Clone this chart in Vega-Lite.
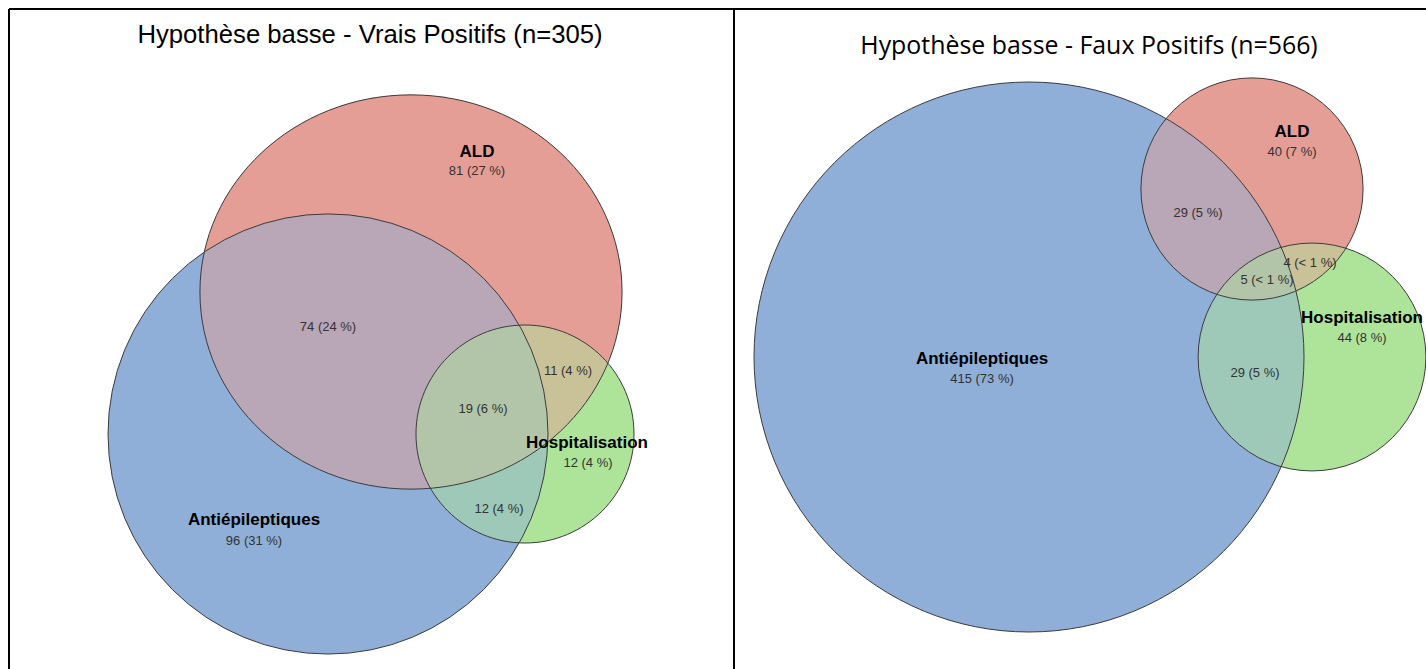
{
  "$schema": "https://vega.github.io/schema/vega-lite/v6.json",
  "width": 1426,
  "height": 669,
  "padding": 0,
  "autosize": {"type": "none"},
  "background": "white",
  "config": {"view": {"stroke": null}},
  "datasets": {
    "circles": [
      {"panel": 1, "set": "Antiépileptiques", "count": 201, "cx": 328, "cy": 434},
      {"panel": 1, "set": "ALD", "count": 185, "cx": 411, "cy": 292},
      {"panel": 1, "set": "Hospitalisation", "count": 54, "cx": 525, "cy": 434},
      {"panel": 2, "set": "Antiépileptiques", "count": 478, "cx": 1029, "cy": 357},
      {"panel": 2, "set": "ALD", "count": 78, "cx": 1252, "cy": 189},
      {"panel": 2, "set": "Hospitalisation", "count": 82, "cx": 1312, "cy": 357}
    ],
    "labels": [
      {"kind": "name", "text": "ALD", "x": 477, "y": 152},
      {"kind": "value", "text": "81 (27 %)", "x": 477, "y": 171},
      {"kind": "value", "text": "74 (24 %)", "x": 328, "y": 327},
      {"kind": "value", "text": "11 (4 %)", "x": 568, "y": 371},
      {"kind": "value", "text": "19 (6 %)", "x": 483, "y": 409},
      {"kind": "name", "text": "Hospitalisation", "x": 587, "y": 443},
      {"kind": "value", "text": "12 (4 %)", "x": 588, "y": 463},
      {"kind": "value", "text": "12 (4 %)", "x": 499, "y": 509},
      {"kind": "name", "text": "Antiépileptiques", "x": 254, "y": 520},
      {"kind": "value", "text": "96 (31 %)", "x": 254, "y": 541},
      {"kind": "name", "text": "ALD", "x": 1292, "y": 132},
      {"kind": "value", "text": "40 (7 %)", "x": 1292, "y": 152},
      {"kind": "value", "text": "29 (5 %)", "x": 1198, "y": 213},
      {"kind": "value", "text": "4 (< 1 %)", "x": 1310, "y": 263},
      {"kind": "value", "text": "5 (< 1 %)", "x": 1267, "y": 280},
      {"kind": "name", "text": "Hospitalisation", "x": 1362, "y": 318},
      {"kind": "value", "text": "44 (8 %)", "x": 1362, "y": 338},
      {"kind": "value", "text": "29 (5 %)", "x": 1255, "y": 373},
      {"kind": "name", "text": "Antiépileptiques", "x": 982, "y": 359},
      {"kind": "value", "text": "415 (73 %)", "x": 982, "y": 379}
    ],
    "titles": [
      {"panel": 1, "text": "Hypothèse basse - Vrais Positifs (n=305)", "x": 370, "y": 35},
      {"panel": 2, "text": "Hypothèse basse - Faux Positifs (n=566)", "x": 1089, "y": 47}
    ],
    "frame": [
      {"x": 9, "y": 9, "x2": 1426, "y2": 9},
      {"x": 9, "y": 9, "x2": 9, "y2": 669},
      {"x": 734, "y": 9, "x2": 734, "y2": 669}
    ]
  },
  "layer": [
    {
      "data": {"name": "circles"},
      "transform": [{"filter": "datum.panel == 1"}],
      "encoding": {
        "x": {"field": "cx", "type": "quantitative", "scale": {"domain": [0, 1426], "nice": false, "zero": false}, "axis": null},
        "y": {"field": "cy", "type": "quantitative", "scale": {"domain": [0, 669], "nice": false, "zero": false, "reverse": true}, "axis": null},
        "size": {"field": "count", "type": "quantitative", "scale": {"domain": [0, 201], "range": [0, 193600]}, "legend": null},
        "fill": {"field": "set", "type": "nominal", "scale": {"domain": ["Antiépileptiques", "ALD", "Hospitalisation"], "range": ["#8FAED8", "#E49E96", "#AEE49A"]}, "legend": null}
      },
      "layer": [
        {"transform": [{"filter": "datum.set == 'Hospitalisation'"}], "mark": {"type": "point", "shape": "M0.956,0C0.956,0.528,0.528,0.956,0,0.956C-0.528,0.956,-0.956,0.528,-0.956,0C-0.956,-0.528,-0.528,-0.956,0,-0.956C0.528,-0.956,0.956,-0.528,0.956,0Z", "filled": true, "opacity": 1, "strokeWidth": 0}},
        {"transform": [{"filter": "datum.set == 'ALD'"}], "mark": {"type": "point", "shape": "M1,0C1,0.5159,0.5523,0.934,0,0.934C-0.5523,0.934,-1,0.5159,-1,0C-1,-0.5159,-0.5523,-0.934,0,-0.934C0.5523,-0.934,1,-0.5159,1,0Z", "filled": true, "opacity": 1, "strokeWidth": 0}},
        {"transform": [{"filter": "datum.set == 'Antiépileptiques'"}], "mark": {"type": "point", "shape": "circle", "filled": true, "opacity": 1, "strokeWidth": 0}},
        {"transform": [{"filter": "datum.set == 'ALD'"}], "mark": {"type": "point", "shape": "M1,0C1,0.5159,0.5523,0.934,0,0.934C-0.5523,0.934,-1,0.5159,-1,0C-1,-0.5159,-0.5523,-0.934,0,-0.934C0.5523,-0.934,1,-0.5159,1,0Z", "filled": true, "opacity": 0.5, "strokeWidth": 0}},
        {"transform": [{"filter": "datum.set == 'Hospitalisation'"}], "mark": {"type": "point", "shape": "M0.956,0C0.956,0.528,0.528,0.956,0,0.956C-0.528,0.956,-0.956,0.528,-0.956,0C-0.956,-0.528,-0.528,-0.956,0,-0.956C0.528,-0.956,0.956,-0.528,0.956,0Z", "filled": true, "opacity": 0.5, "strokeWidth": 0}},
        {"transform": [{"filter": "datum.set == 'Antiépileptiques'"}], "mark": {"type": "point", "shape": "circle", "filled": true, "opacity": 1, "fillOpacity": 0, "stroke": "#3c3c3c", "strokeWidth": 1}},
        {"transform": [{"filter": "datum.set == 'ALD'"}], "mark": {"type": "point", "shape": "M1,0C1,0.5159,0.5523,0.934,0,0.934C-0.5523,0.934,-1,0.5159,-1,0C-1,-0.5159,-0.5523,-0.934,0,-0.934C0.5523,-0.934,1,-0.5159,1,0Z", "filled": true, "opacity": 1, "fillOpacity": 0, "stroke": "#3c3c3c", "strokeWidth": 1}},
        {"transform": [{"filter": "datum.set == 'Hospitalisation'"}], "mark": {"type": "point", "shape": "M0.956,0C0.956,0.528,0.528,0.956,0,0.956C-0.528,0.956,-0.956,0.528,-0.956,0C-0.956,-0.528,-0.528,-0.956,0,-0.956C0.528,-0.956,0.956,-0.528,0.956,0Z", "filled": true, "opacity": 1, "fillOpacity": 0, "stroke": "#3c3c3c", "strokeWidth": 1}}
      ]
    },
    {
      "data": {"name": "circles"},
      "transform": [{"filter": "datum.panel == 2"}],
      "encoding": {
        "x": {"field": "cx", "type": "quantitative", "scale": {"domain": [0, 1426], "nice": false, "zero": false}, "axis": null},
        "y": {"field": "cy", "type": "quantitative", "scale": {"domain": [0, 669], "nice": false, "zero": false, "reverse": true}, "axis": null},
        "size": {"field": "count", "type": "quantitative", "scale": {"domain": [0, 478], "range": [0, 302500]}, "legend": null},
        "fill": {"field": "set", "type": "nominal", "scale": {"domain": ["Antiépileptiques", "ALD", "Hospitalisation"], "range": ["#8FAED8", "#E49E96", "#AEE49A"]}, "legend": null}
      },
      "layer": [
        {"transform": [{"filter": "datum.set == 'Hospitalisation'"}], "mark": {"type": "point", "shape": "circle", "filled": true, "opacity": 1, "strokeWidth": 0}},
        {"transform": [{"filter": "datum.set == 'ALD'"}], "mark": {"type": "point", "shape": "circle", "filled": true, "opacity": 1, "strokeWidth": 0}},
        {"transform": [{"filter": "datum.set == 'Antiépileptiques'"}], "mark": {"type": "point", "shape": "circle", "filled": true, "opacity": 1, "strokeWidth": 0}},
        {"transform": [{"filter": "datum.set == 'ALD'"}], "mark": {"type": "point", "shape": "circle", "filled": true, "opacity": 0.5, "strokeWidth": 0}},
        {"transform": [{"filter": "datum.set == 'Hospitalisation'"}], "mark": {"type": "point", "shape": "circle", "filled": true, "opacity": 0.5, "strokeWidth": 0}},
        {"mark": {"type": "point", "shape": "circle", "filled": true, "opacity": 1, "fillOpacity": 0, "stroke": "#3c3c3c", "strokeWidth": 1}}
      ]
    },
    {
      "data": {"name": "frame"},
      "mark": {"type": "rule", "color": "#000000", "strokeWidth": 2},
      "encoding": {
        "x": {"field": "x", "type": "quantitative", "scale": {"domain": [0, 1426], "nice": false, "zero": false}, "axis": null},
        "y": {"field": "y", "type": "quantitative", "scale": {"domain": [0, 669], "nice": false, "zero": false, "reverse": true}, "axis": null},
        "x2": {"field": "x2"},
        "y2": {"field": "y2"}
      }
    },
    {
      "data": {"name": "titles"},
      "transform": [{"filter": "datum.panel == 1"}],
      "mark": {"type": "text", "font": "Liberation Sans", "fontSize": 25.7, "color": "#000000", "align": "center", "baseline": "middle"},
      "encoding": {
        "x": {"field": "x", "type": "quantitative", "scale": {"domain": [0, 1426], "nice": false, "zero": false}, "axis": null},
        "y": {"field": "y", "type": "quantitative", "scale": {"domain": [0, 669], "nice": false, "zero": false, "reverse": true}, "axis": null},
        "text": {"field": "text", "type": "nominal"}
      }
    },
    {
      "data": {"name": "titles"},
      "transform": [{"filter": "datum.panel == 2"}],
      "mark": {"type": "text", "font": "Open Sans", "fontSize": 24.9, "color": "#000000", "align": "center", "baseline": "middle"},
      "encoding": {
        "x": {"field": "x", "type": "quantitative", "scale": {"domain": [0, 1426], "nice": false, "zero": false}, "axis": null},
        "y": {"field": "y", "type": "quantitative", "scale": {"domain": [0, 669], "nice": false, "zero": false, "reverse": true}, "axis": null},
        "text": {"field": "text", "type": "nominal"}
      }
    },
    {
      "data": {"name": "labels"},
      "transform": [{"filter": "datum.kind == 'name'"}],
      "mark": {"type": "text", "font": "Liberation Sans", "fontSize": 17, "fontWeight": "bold", "color": "#000000", "align": "center", "baseline": "middle"},
      "encoding": {
        "x": {"field": "x", "type": "quantitative", "scale": {"domain": [0, 1426], "nice": false, "zero": false}, "axis": null},
        "y": {"field": "y", "type": "quantitative", "scale": {"domain": [0, 669], "nice": false, "zero": false, "reverse": true}, "axis": null},
        "text": {"field": "text", "type": "nominal"}
      }
    },
    {
      "data": {"name": "labels"},
      "transform": [{"filter": "datum.kind == 'value'"}],
      "mark": {"type": "text", "font": "Liberation Sans", "fontSize": 13, "color": "#333333", "align": "center", "baseline": "middle"},
      "encoding": {
        "x": {"field": "x", "type": "quantitative", "scale": {"domain": [0, 1426], "nice": false, "zero": false}, "axis": null},
        "y": {"field": "y", "type": "quantitative", "scale": {"domain": [0, 669], "nice": false, "zero": false, "reverse": true}, "axis": null},
        "text": {"field": "text", "type": "nominal"}
      }
    }
  ],
  "resolve": {"scale": {"size": "independent"}}
}
